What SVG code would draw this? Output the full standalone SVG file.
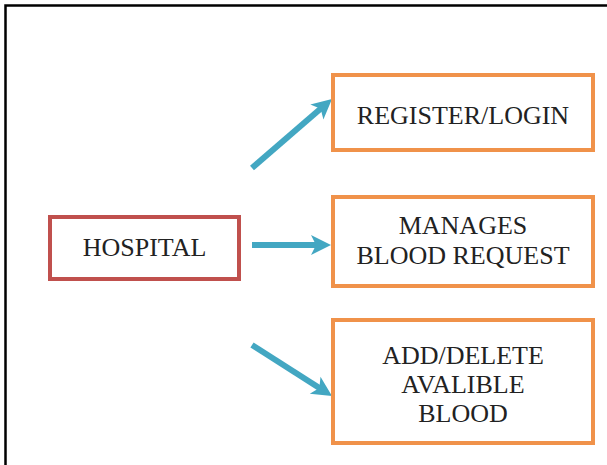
<svg xmlns="http://www.w3.org/2000/svg" width="607" height="465" viewBox="0 0 607 465">
<defs>
<style>
.lbl{font-family:"Liberation Serif","Times New Roman",serif;font-size:26px;fill:#222222;text-anchor:middle}
.orange{fill:#ffffff;stroke:#f0924a;stroke-width:4}
.red{fill:#ffffff;stroke:#c0504d;stroke-width:4}
.arr{stroke:#43a7c2;stroke-width:6;fill:none;marker-end:url(#ah)}
</style>
<marker id="ah" markerUnits="userSpaceOnUse" markerWidth="22" markerHeight="24" refX="6" refY="11" orient="auto" overflow="visible">
<path d="M0,1 L20,11 L0,21 L5,11 Z" fill="#43a7c2"/>
</marker>
</defs>
<rect width="607" height="465" fill="#ffffff"/>
<g id="frame">
<path d="M5.5,465 L5.5,5.5 L607,5.5" fill="none" stroke="#000" stroke-width="2.5"/>
</g>
<g id="connectors">
<line class="arr" x1="252" y1="168" x2="321.4" y2="108.1"/>
<line class="arr" x1="252" y1="245" x2="317" y2="245"/>
<line class="arr" x1="252" y1="345" x2="320.2" y2="388.5"/>
</g>
<g id="hospital">
<rect class="red" x="50" y="217" width="189" height="62"/>
<text class="lbl" x="144.5" y="256">HOSPITAL</text>
</g>
<g id="register">
<rect class="orange" x="333" y="75" width="260" height="75"/>
<text class="lbl" x="463" y="124">REGISTER/LOGIN</text>
</g>
<g id="manages">
<rect class="orange" x="333" y="197" width="260" height="89"/>
<text class="lbl" x="463" y="234">MANAGES</text>
<text class="lbl" x="463" y="264">BLOOD REQUEST</text>
</g>
<g id="adddelete">
<rect class="orange" x="333" y="320" width="260" height="123"/>
<text class="lbl" x="463" y="364">ADD/DELETE</text>
<text class="lbl" x="463" y="393">AVALIBLE</text>
<text class="lbl" x="463" y="422">BLOOD</text>
</g>
</svg>
